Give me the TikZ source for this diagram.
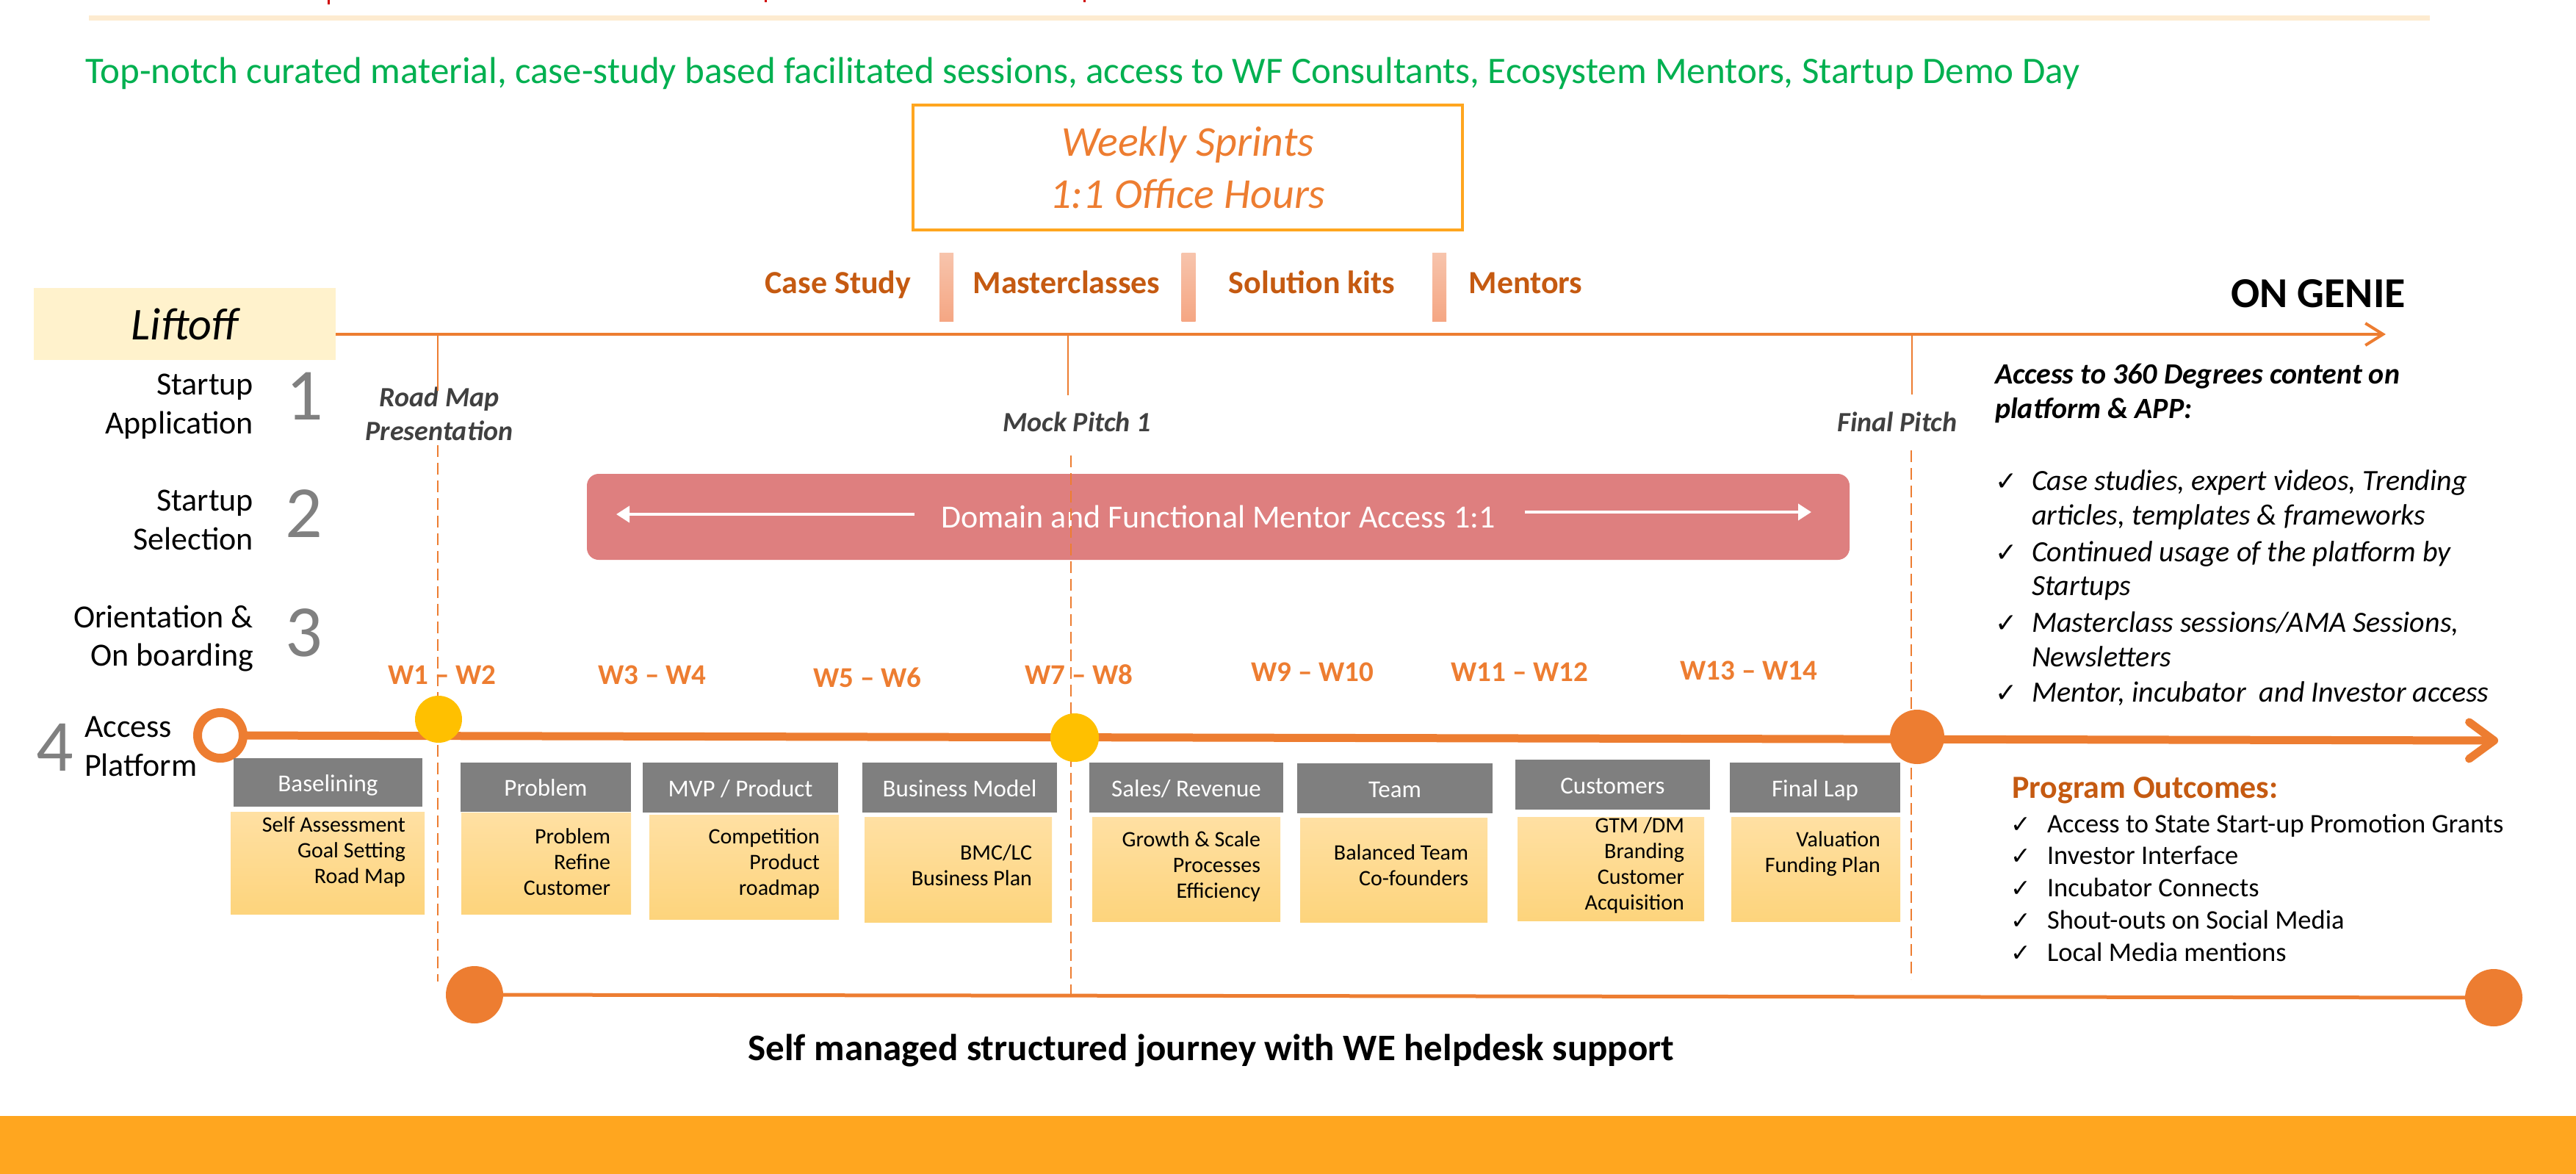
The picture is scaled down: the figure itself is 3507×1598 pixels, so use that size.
\documentclass[tikz,border=0pt]{standalone}
\usepackage{fontspec}
\setmainfont{Carlito}
\newfontfamily\symfont{DejaVu Sans}
\usetikzlibrary{arrows.meta}
\definecolor{orn}{HTML}{ED7D31}
\definecolor{dorn}{HTML}{C55A11}
\definecolor{gold}{HTML}{FFA61F}
\definecolor{beige}{HTML}{FDEBD0}
\definecolor{lift}{HTML}{FFF2CC}
\definecolor{ylw}{HTML}{FFC000}
\definecolor{hdrgray}{HTML}{7F7F7F}
\definecolor{bodytop}{HTML}{FFE0A3}
\definecolor{bodybot}{HTML}{FDD47C}
\definecolor{dom}{HTML}{DE7F7F}
\definecolor{grn}{HTML}{00B050}
\definecolor{dgray}{HTML}{404040}
\definecolor{numgray}{HTML}{808080}
\definecolor{bartop}{HTML}{F7C4AC}
\definecolor{barbot}{HTML}{F5A683}
\definecolor{tick}{HTML}{D00000}
\newcommand\fz[1]{\fontsize{#1}{#1}\selectfont}
\begin{document}
\begin{tikzpicture}[x=1pt,y=-1pt,
  every node/.style={inner sep=0pt, outer sep=0pt},
  solidln/.style={draw=orn, line width=2.5pt},
  dsh/.style={draw=orn, line width=2.5pt, dash pattern=on 16pt off 8pt},
  hdr/.style={fill=hdrgray, text=white, font=\fz{33}, text height=26pt, text depth=2pt},
  bodybox/.style={top color=bodytop, bottom color=bodybot, draw=none},
  bt/.style={font=\fz{30}, anchor=base east},
  wk/.style={font=\bfseries\fz{39}, text=orn, anchor=base},
  stage/.style={font=\fz{44}, anchor=base east},
  num/.style={font=\fz{100}, text=numgray, anchor=base},
  milestone/.style={font=\bfseries\itshape\fz{38}, text=dgray, anchor=base},
  res/.style={font=\bfseries\fz{44}, text=dorn, anchor=base},
  bar/.style={top color=bartop, bottom color=barbot, draw=none, minimum width=19pt, minimum height=93pt},
  chk/.style={font=\symfont\fz{36}, anchor=base west},
  itm/.style={font=\itshape\fz{40}, anchor=base west},
  outc/.style={font=\fz{36.5}, anchor=base west},
  dot/.style={circle, minimum size=#1},
]
\useasboundingbox (0,0) rectangle (3507,1598);

% top remnants
\fill[tick] (446,0) rectangle (449,6);
\fill[tick] (1041,0) rectangle (1044,3);
\fill[tick] (1475,0) rectangle (1478,3);
\node[fill=beige, minimum width=3187pt, minimum height=7pt] (topbar) at (1714.5,24.5) {};

% green headline
\node[font=\fz{51}, text=grn, anchor=base west] (headline) at (116,113)
  {Top-notch curated material, case-study based facilitated sessions, access to WF Consultants, Ecosystem Mentors, Startup Demo Day};

% weekly sprints box
\node[draw=gold, line width=4pt, minimum width=748pt, minimum height=170pt, align=center,
      font=\itshape\fontsize{58}{71}\selectfont, text=orn] (weekly) at (1617,228)
  {Weekly Sprints\\1:1 Office Hours};

% resources row
\node[bar] (bar1) at (1288.5,390.5) {};
\node[bar] (bar2) at (1618,390.5) {};
\node[bar] (bar3) at (1959.5,390.5) {};
\node[res] (cs) at (1141,399) {Case Study};
\node[res] (mc) at (1452,399) {Masterclasses};
\node[res] (sk) at (1786,399) {Solution kits};
\node[res] (mt) at (2077,399) {Mentors};

% liftoff and upper timeline
\node[fill=lift, minimum width=411pt, minimum height=98pt, font=\itshape\fz{62}] (liftoff) at (251.5,441) {Liftoff};
\coordinate (topL) at (457,455);
\coordinate (topR) at (3248,455);
\draw[draw=orn, line width=4pt, -{Straight Barb[length=24pt, width=30pt]}] (topL) -- (topR);
\node[font=\bfseries\fz{58}, anchor=base west] (ongenie) at (3037,418) {ON GENIE};

% milestone labels
\node[milestone] (rm1) at (598,553) {Road Map};
\node[milestone] (rm2) at (598,599) {Presentation};
\node[milestone] (mp) at (1466,587) {Mock Pitch 1};
\node[milestone] (fp) at (2583,587) {Final Pitch};
\coordinate (rmT) at (596,455);
\coordinate (rmB) at (596,532);
\coordinate (mpT) at (1454,455);
\coordinate (mpB) at (1454,538);
\coordinate (fpT) at (2603,455);
\coordinate (fpB) at (2603,537);
\draw[solidln] (rmT) -- (rmB);
\draw[solidln] (mpT) -- (mpB);
\draw[solidln] (fpT) -- (fpB);

% stages
\node[stage] (s1a) at (345,537) {Startup};
\node[stage] (s1b) at (345,590) {Application};
\node[stage] (s2a) at (345,695) {Startup};
\node[stage] (s2b) at (345,748) {Selection};
\node[stage] (s3a) at (345,854) {Orientation \&};
\node[stage] (s3b) at (345,906) {On boarding};
\node[stage, anchor=base west] (s4a) at (115,1003) {Access};
\node[stage, anchor=base west] (s4b) at (115,1056) {Platform};
\node[num] (n1) at (415,571) {1};
\node[num] (n2) at (414,731) {2};
\node[num] (n3) at (414,893) {3};
\node[num] (n4) at (75,1049) {4};

% domain mentor access
\node[fill=dom, rounded corners=16pt, minimum width=1719pt, minimum height=117pt,
      font=\fz{44}, text=white] (dom) at (1658.5,703.5) {Domain and Functional Mentor Access 1:1};
\coordinate (daL0) at (1245,700);
\coordinate (daL1) at (839,700);
\coordinate (daR0) at (2076,697);
\coordinate (daR1) at (2466,697);
\draw[white, line width=4pt, -{Triangle[length=18pt, width=22pt]}] (daL0) -- (daL1);
\draw[white, line width=4pt, -{Triangle[length=18pt, width=22pt]}] (daR0) -- (daR1);

% dashed guides
\coordinate (rmD1) at (596,606);
\coordinate (rmD2) at (596,1336);
\coordinate (mpD1) at (1458,620);
\coordinate (mpD2) at (1458,1356);
\coordinate (fpD1) at (2602,613);
\coordinate (fpD2) at (2602,1333);
\draw[dsh] (rmD1) -- (rmD2);
\draw[dsh] (mpD1) -- (mpD2);
\draw[dsh] (fpD1) -- (fpD2);

% week labels
\node[wk] (w12) at (602,931) {W1 – W2};
\node[wk] (w34) at (888,931) {W3 – W4};
\node[wk] (w56) at (1181,935) {W5 – W6};
\node[wk] (w78) at (1469,931) {W7 – W8};
\node[wk] (w910) at (1787,927) {W9 – W10};
\node[wk] (w1112) at (2069,927) {W11 – W12};
\node[wk] (w1314) at (2381,925) {W13 – W14};

% main timeline
\node[dot=62pt, draw=orn, line width=12pt, fill=white] (start) at (300,1001) {};
\coordinate (mainR) at (3401,1008);
\draw[draw=orn, line width=11pt, -{Straight Barb[length=34pt, width=50pt, round]}] (start) -- (mainR);
\node[dot=64pt, fill=ylw] (y1) at (597,979) {};
\node[dot=66pt, fill=ylw] (y2) at (1463,1004) {};
\node[dot=74pt, fill=orn] (o1) at (2610,1003) {};

% week boxes: headers
\node[hdr, minimum width=257pt, minimum height=66pt] (h1) at (446.5,1065) {Baselining};
\node[hdr, minimum width=232pt, minimum height=67pt] (h2) at (743,1071.5) {Problem};
\node[hdr, minimum width=266pt, minimum height=68pt] (h3) at (1008,1072) {MVP / Product};
\node[hdr, minimum width=265pt, minimum height=68pt] (h4) at (1306.5,1072) {Business Model};
\node[hdr, minimum width=264pt, minimum height=68pt] (h5) at (1615,1072) {Sales/ Revenue};
\node[hdr, minimum width=266pt, minimum height=68pt] (h6) at (1899,1073) {Team};
\node[hdr, minimum width=265pt, minimum height=68pt] (h7) at (2195.5,1068) {Customers};
\node[hdr, minimum width=232pt, minimum height=68pt] (h8) at (2471,1072) {Final Lap};

% week boxes: bodies
\node[bodybox, minimum width=264pt, minimum height=139pt] (b1) at (446,1174.5) {};
\node[bodybox, minimum width=231pt, minimum height=138pt] (b2) at (743.5,1175) {};
\node[bodybox, minimum width=258pt, minimum height=142pt] (b3) at (1013,1180) {};
\node[bodybox, minimum width=255pt, minimum height=143pt] (b4) at (1304.5,1183.5) {};
\node[bodybox, minimum width=256pt, minimum height=142pt] (b5) at (1615,1183) {};
\node[bodybox, minimum width=255pt, minimum height=142pt] (b6) at (1897.5,1184) {};
\node[bodybox, minimum width=254pt, minimum height=141pt] (b7) at (2193,1182.5) {};
\node[bodybox, minimum width=230pt, minimum height=142pt] (b8) at (2472,1183) {};

% body texts
\node[bt] (t1a) at (552,1132) {Self Assessment};
\node[bt] (t1b) at (552,1167) {Goal Setting};
\node[bt] (t1c) at (552,1202) {Road Map};
\node[bt] (t2a) at (831,1148) {Problem};
\node[bt] (t2b) at (831,1183) {Refine};
\node[bt] (t2c) at (831,1218) {Customer};
\node[bt] (t3a) at (1116,1148) {Competition};
\node[bt] (t3b) at (1116,1183) {Product};
\node[bt] (t3c) at (1116,1218) {roadmap};
\node[bt] (t4a) at (1405,1170) {BMC/LC};
\node[bt] (t4b) at (1405,1205) {Business Plan};
\node[bt] (t5a) at (1716,1152) {Growth \& Scale};
\node[bt] (t5b) at (1716,1187) {Processes};
\node[bt] (t5c) at (1716,1222) {Efficiency};
\node[bt] (t6a) at (1999,1170) {Balanced Team};
\node[bt] (t6b) at (1999,1205) {Co-founders};
\node[bt] (t7a) at (2293,1133) {GTM /DM};
\node[bt] (t7b) at (2293,1168) {Branding};
\node[bt] (t7c) at (2293,1203) {Customer};
\node[bt] (t7d) at (2293,1238) {Acquisition};
\node[bt] (t8a) at (2560,1152) {Valuation};
\node[bt] (t8b) at (2560,1187) {Funding Plan};

% right panel: platform content
\node[font=\bfseries\itshape\fz{40}, anchor=base west] (acc1) at (2716,522) {Access to 360 Degrees content on};
\node[font=\bfseries\itshape\fz{40}, anchor=base west] (acc2) at (2716,569) {platform \& APP:};
\node[chk] (c1) at (2716,667) {✓};
\node[chk] (c2) at (2716,764) {✓};
\node[chk] (c3) at (2716,860) {✓};
\node[chk] (c4) at (2716,955) {✓};
\node[itm] (i1a) at (2766,667) {Case studies, expert videos, Trending};
\node[itm] (i1b) at (2766,714) {articles, templates \& frameworks};
\node[itm] (i2a) at (2766,764) {Continued usage of the platform by};
\node[itm] (i2b) at (2766,810) {Startups};
\node[itm] (i3a) at (2766,860) {Masterclass sessions/AMA Sessions,};
\node[itm] (i3b) at (2766,907) {Newsletters};
\node[itm] (i4a) at (2766,955) {Mentor, incubator\ \ and Investor access};

% program outcomes
\node[font=\bfseries\fz{44}, text=dorn, anchor=base west] (po) at (2739,1086) {Program Outcomes:};
\node[chk, font=\symfont\fz{33}] (pc1) at (2737,1133) {✓};
\node[chk, font=\symfont\fz{33}] (pc2) at (2737,1176) {✓};
\node[chk, font=\symfont\fz{33}] (pc3) at (2737,1220) {✓};
\node[chk, font=\symfont\fz{33}] (pc4) at (2737,1264) {✓};
\node[chk, font=\symfont\fz{33}] (pc5) at (2737,1308) {✓};
\node[outc] (p1) at (2787,1133) {Access to State Start-up Promotion Grants};
\node[outc] (p2) at (2787,1176) {Investor Interface};
\node[outc] (p3) at (2787,1220) {Incubator Connects};
\node[outc] (p4) at (2787,1264) {Shout-outs on Social Media};
\node[outc] (p5) at (2787,1308) {Local Media mentions};

% bottom journey
\node[dot=78pt, fill=orn] (bl) at (646,1354) {};
\node[dot=78pt, fill=orn] (br) at (3395,1358) {};
\draw[draw=orn, line width=5pt] (bl) -- (br);
\node[font=\bfseries\fz{51}, anchor=base] (journey) at (1649,1443) {Self managed structured journey with WE helpdesk support};

% bottom band
\node[fill=gold, minimum width=3507pt, minimum height=79pt] (band) at (1753.5,1558.5) {};
\end{tikzpicture}
\end{document}
